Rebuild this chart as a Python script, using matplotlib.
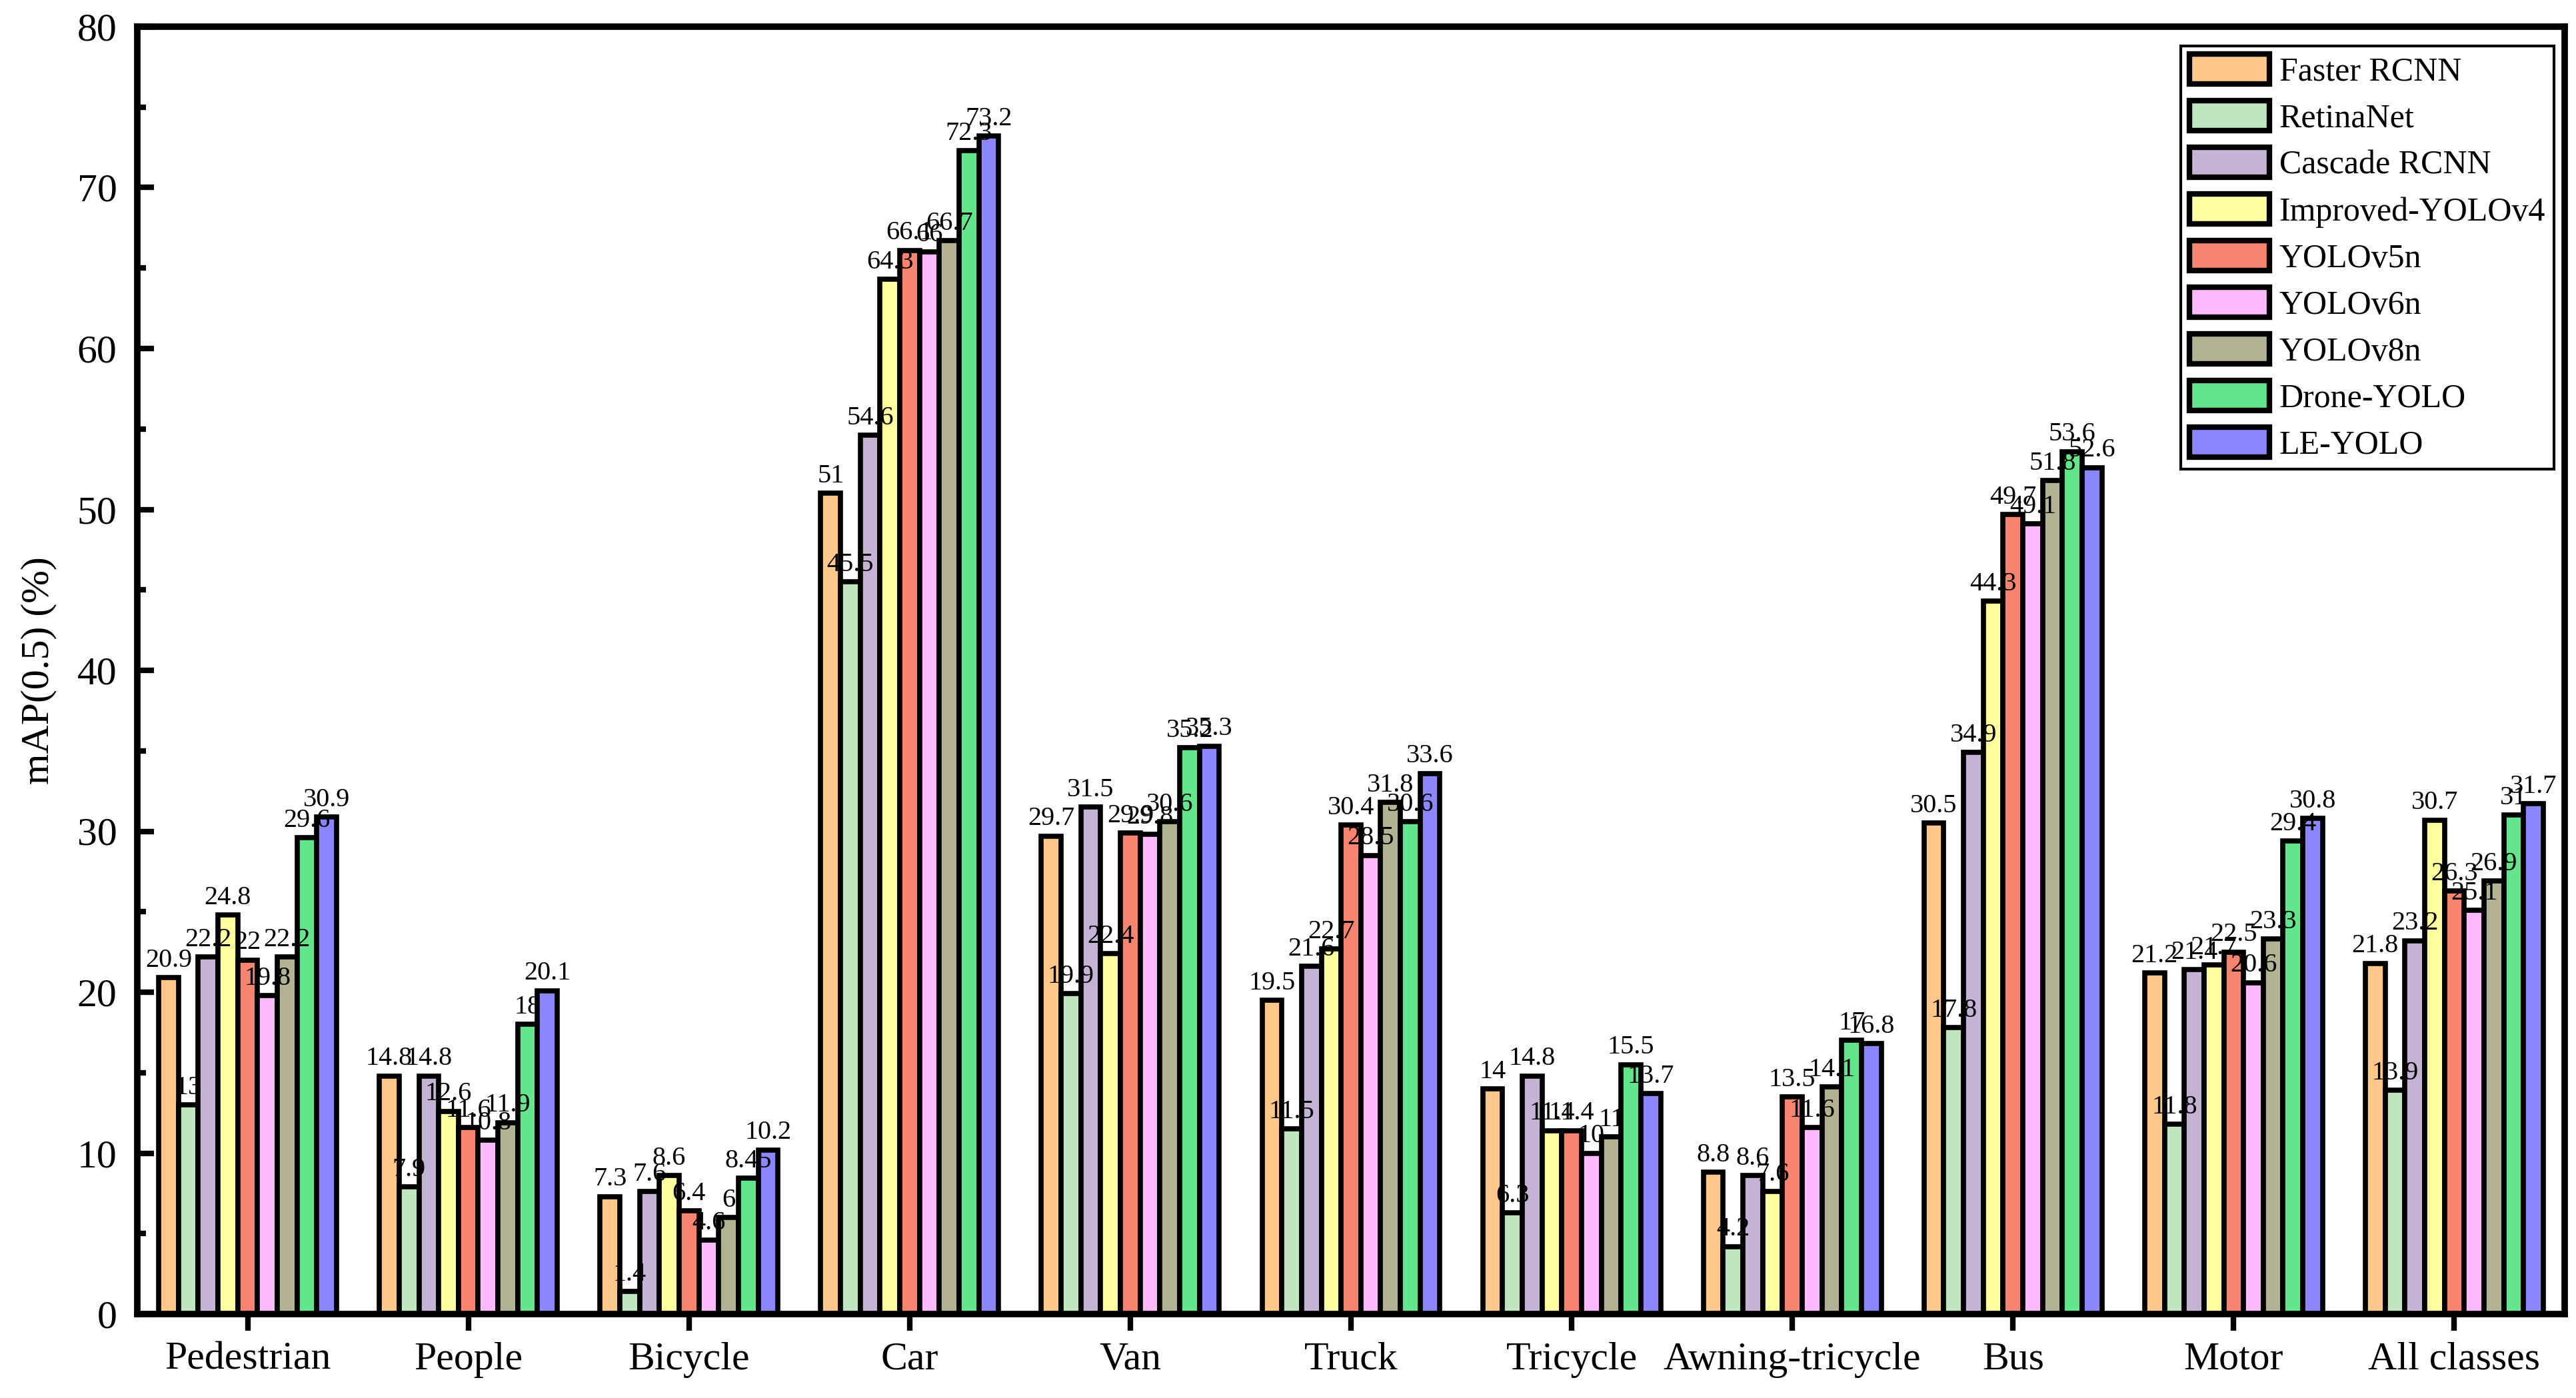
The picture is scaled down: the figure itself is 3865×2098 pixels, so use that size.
import matplotlib
matplotlib.use('Agg')
import matplotlib.pyplot as plt
import numpy as np

plt.rcParams['font.family'] = ['Liberation Serif', 'DejaVu Serif']

classes = ["Pedestrian", "People", "Bicycle", "Car", "Van", "Truck", "Tricycle",
           "Awning-tricycle", "Bus", "Motor", "All classes"]
models = ["Faster RCNN", "RetinaNet", "Cascade RCNN", "Improved-YOLOv4", "YOLOv5n",
          "YOLOv6n", "YOLOv8n", "Drone-YOLO", "LE-YOLO"]

faster_rcnn = [20.9, 14.8, 7.3, 51, 29.7, 19.5, 14, 8.8, 30.5, 21.2, 21.8]
retinanet = [13, 7.9, 1.4, 45.5, 19.9, 11.5, 6.3, 4.2, 17.8, 11.8, 13.9]
cascade_rcnn = [22.2, 14.8, 7.6, 54.6, 31.5, 21.6, 14.8, 8.6, 34.9, 21.4, 23.2]
improved_yolov4 = [24.8, 12.6, 8.6, 64.3, 22.4, 22.7, 11.4, 7.6, 44.3, 21.7, 30.7]
yolov5n = [22, 11.6, 6.4, 66.1, 29.9, 30.4, 11.4, 13.5, 49.7, 22.5, 26.3]
yolov6n = [19.8, 10.8, 4.6, 66, 29.8, 28.5, 10, 11.6, 49.1, 20.6, 25.1]
yolov8n = [22.2, 11.9, 6, 66.7, 30.6, 31.8, 11, 14.1, 51.8, 23.3, 26.9]
drone_yolo = [29.6, 18, 8.45, 72.3, 35.2, 30.6, 15.5, 17, 53.6, 29.4, 31]
le_yolo = [30.9, 20.1, 10.2, 73.2, 35.3, 33.6, 13.7, 16.8, 52.6, 30.8, 31.7]

series = [faster_rcnn, retinanet, cascade_rcnn, improved_yolov4, yolov5n,
          yolov6n, yolov8n, drone_yolo, le_yolo]
colors = ["#FFC88A", "#BFE6BF", "#C5B3D6", "#FFFF9F", "#F7846E",
          "#FFBAFF", "#B3B393", "#63E58B", "#8C86FC"]

fig = plt.figure(figsize=(38.65, 20.98), dpi=100)
ax = fig.add_axes([206 / 3865, 1 - 1972 / 2098, (3848 - 206) / 3865, (1972 - 40) / 2098])

x = np.arange(len(classes))
w = 0.806 / len(models)
for i, (name, vals, c) in enumerate(zip(models, series, colors)):
    pos = x - 0.403 + w * (i + 0.5)
    ax.bar(pos, vals, width=w, color=c, edgecolor='black', linewidth=5.5, label=name, zorder=2)
    for px, v in zip(pos, vals):
        ax.text(px, v + 0.3, f"{v:g}", ha='center', va='bottom', fontsize=29, zorder=3)

ax.set_xlim(-0.5, 10.5)
ax.set_ylim(0, 80)
ax.set_xticks(x)
ax.set_xticklabels(classes, fontsize=43)
ax.set_yticks(np.arange(0, 81, 10))
ax.set_yticks(np.arange(5, 80, 10), minor=True)
ax.tick_params(axis='y', which='major', direction='in', length=18, width=6, labelsize=43, pad=22)
ax.tick_params(axis='y', which='minor', direction='in', length=9, width=6)
ax.tick_params(axis='x', which='major', direction='out', length=18, width=6, pad=12)
ax.set_ylabel("mAP(0.5) (%)", fontsize=43, labelpad=22)
for s in ax.spines.values():
    s.set_linewidth(7)

leg = ax.legend(loc='upper right', bbox_to_anchor=(0.9955, 0.985), fontsize=36, frameon=True,
                fancybox=False, edgecolor='black', framealpha=1, handlelength=2.4,
                handleheight=1.0, labelspacing=0.39, borderpad=0.25, handletextpad=0.3,
                borderaxespad=0)
leg.get_frame().set_linewidth(3)
for h in leg.legend_handles:
    h.set_linewidth(6)

fig.savefig("out.png", dpi=100)
